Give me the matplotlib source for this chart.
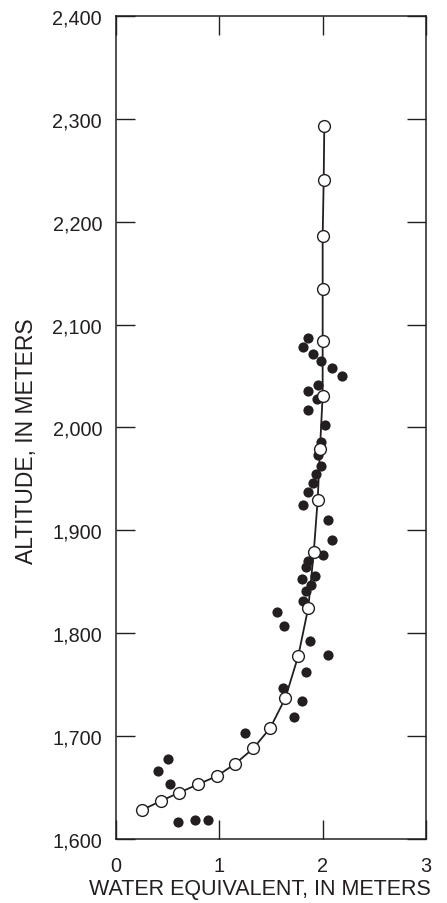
import matplotlib
matplotlib.use("Agg")
import matplotlib.pyplot as plt

# Curva (circulos abiertos): equivalente en agua vs altitud
curve_we = [0.248, 0.435, 0.61, 0.79, 0.974, 1.152, 1.329, 1.493, 1.639, 1.764,
            1.861, 1.914, 1.952, 1.974, 2.0, 2.0, 2.0, 2.0, 2.01, 2.016]
curve_alt = [1628, 1637, 1645, 1653, 1661, 1673, 1688, 1708, 1737, 1778,
             1825, 1879, 1930, 1979, 2031, 2084, 2135, 2186, 2241, 2293]

# Mediciones (circulos rellenos)
obs_we = [1.861, 1.813, 1.909, 1.984, 2.087, 2.184, 1.952, 1.861, 1.942, 1.861,
          2.023, 1.984, 1.952, 1.984, 1.935, 1.909, 1.861, 1.807, 2.055, 2.087,
          2.0, 1.861, 1.839, 1.926, 1.797, 1.887, 1.839, 1.813, 1.561, 1.626,
          1.877, 2.055, 1.839, 1.619, 1.797, 1.723, 1.248, 0.5, 0.41, 0.523,
          0.597, 0.765, 0.887]
obs_alt = [2087, 2078, 2071, 2065, 2058, 2050, 2041, 2035, 2028, 2017,
           2002, 1986, 1973, 1963, 1955, 1946, 1937, 1925, 1910, 1891,
           1876, 1870, 1864, 1856, 1853, 1847, 1841, 1831, 1821, 1807,
           1792, 1779, 1762, 1747, 1734, 1719, 1703, 1678, 1666, 1653,
           1617, 1618, 1618]

x_ticks = [0, 1, 2, 3]
y_ticks = [1600, 1700, 1800, 1900, 2000, 2100, 2200, 2300, 2400]

ink = "#231f20"
plt.rcParams["font.family"] = ["Liberation Sans", "DejaVu Sans"]

fig = plt.figure(figsize=(4.47, 9.04), dpi=100)
ax = fig.add_axes([0.2595, 0.0708, 0.6935, 0.9104])

ax.scatter(obs_we, obs_alt, s=54, color=ink, zorder=2, linewidths=0)
ax.plot(curve_we, curve_alt, color=ink, lw=1.3, marker="o", ms=8.5,
        mfc="white", mec=ink, mew=1.0, zorder=3)

ax.set_xlim(0, 3)
ax.set_ylim(1600, 2400)
ax.set_xticks(x_ticks)
ax.set_yticks(y_ticks)
ax.set_yticklabels([f"{v:,}" for v in y_ticks])

ax.tick_params(direction="in", length=14, width=1.0, color=ink,
               labelcolor=ink, labelsize=14.3, top=True, right=True)
ax.tick_params(axis="x", pad=12.5)
ax.tick_params(axis="y", pad=10)
for sp in ax.spines.values():
    sp.set_color(ink)
    sp.set_linewidth(1.1)

ax.set_xlabel("WATER EQUIVALENT, IN METERS", fontsize=15.5, color=ink)
ax.xaxis.set_label_coords(0.465, -0.047)
ax.set_ylabel("ALTITUDE, IN METERS", fontsize=16.5, color=ink)
ax.yaxis.set_label_coords(-0.252, 0.485)

fig.savefig("out.png", dpi=100)
